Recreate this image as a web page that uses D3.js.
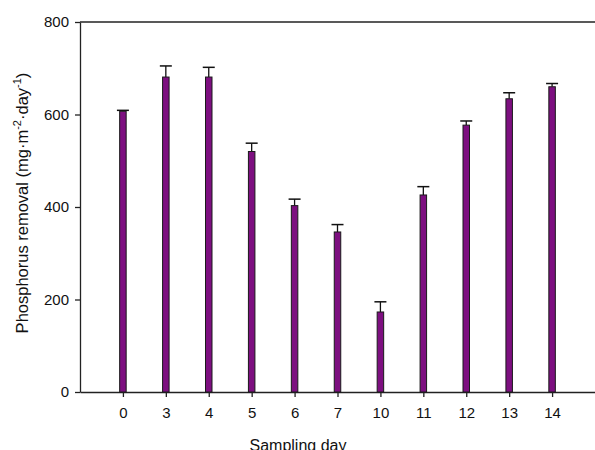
<!DOCTYPE html>
<html>
<head>
<meta charset="utf-8">
<script src="https://cdn.jsdelivr.net/npm/d3@7"></script>
<style>
  body { margin: 0; background: #fff; }
  text { font-family: "Liberation Sans", Arial, sans-serif; fill: #111; }
</style>
</head>
<body>
<svg id="chart" width="595" height="450"></svg>
<script>
// sampling days and measured phosphorus removal (mg m-2 day-1)
var days = ["0", "3", "4", "5", "6", "7", "10", "11", "12", "13", "14"];
var removal = [607, 681, 681, 520, 403, 346, 173, 426, 577, 634, 660];
var errors = [2, 24, 21, 18, 14, 16, 22, 18, 9, 13, 7];
var yTicks = [0, 200, 400, 600, 800];

var plotLeft = 80, plotRight = 595, plotTop = 22, plotBottom = 392;

window.onload = function() {
   var svg = d3.select("#chart");

   var x = d3.scalePoint()
      .domain(days)
      .range([plotLeft, plotRight])
      .padding(1);

   var y = d3.scaleLinear()
      .domain([0, 800])
      .range([plotBottom, plotTop]);

   var barW = 6.5;

   // frame line on top
   svg.append("line")
      .attr("x1", plotLeft).attr("x2", plotRight)
      .attr("y1", plotTop).attr("y2", plotTop)
      .attr("stroke", "#222").attr("stroke-width", 1.3);

   // y axis
   svg.append("g")
      .attr("transform", "translate(" + plotLeft + ",0)")
      .call(d3.axisLeft(y).tickValues(yTicks).tickSize(5).tickPadding(6).tickSizeOuter(0))
      .attr("font-size", 15)
      .attr("font-family", null);

   // x axis
   svg.append("g")
      .attr("transform", "translate(0," + plotBottom + ")")
      .call(d3.axisBottom(x).tickSize(5).tickPadding(10).tickSizeOuter(0))
      .attr("font-size", 15)
      .attr("font-family", null);

   svg.selectAll(".domain, .tick line")
      .attr("stroke", "#222").attr("stroke-width", 1.3);

   // error bars (upper only)
   var eb = svg.append("g");
   days.forEach(function(d, i) {
      var cx = x(d);
      eb.append("line")
         .attr("x1", cx).attr("x2", cx)
         .attr("y1", y(removal[i])).attr("y2", y(removal[i] + errors[i]))
         .attr("stroke", "#111").attr("stroke-width", 1.3);
      eb.append("line")
         .attr("x1", cx - 6).attr("x2", cx + 6)
         .attr("y1", y(removal[i] + errors[i])).attr("y2", y(removal[i] + errors[i]))
         .attr("stroke", "#111").attr("stroke-width", 1.5);
   });

   // bars
   svg.append("g").selectAll("rect")
      .data(days)
      .join("rect")
      .attr("x", function(d) { return x(d) - barW / 2; })
      .attr("y", function(d, i) { return y(removal[i]); })
      .attr("width", barW)
      .attr("height", function(d, i) { return plotBottom - y(removal[i]); })
      .attr("fill", "#7d0f80")
      .attr("stroke", "#1a1a1a")
      .attr("stroke-width", 1);

   // axis titles
   svg.append("text")
      .attr("x", 298).attr("y", 451)
      .attr("text-anchor", "middle")
      .attr("font-size", 16)
      .text("Sampling day");

   var yl = svg.append("text")
      .attr("transform", "translate(28,203) rotate(-90)")
      .attr("text-anchor", "middle")
      .attr("font-size", 16.5);
   yl.append("tspan").text("Phosphorus removal (mg·m");
   yl.append("tspan").attr("dy", -7).attr("font-size", 11).text("-2");
   yl.append("tspan").attr("dy", 7).text("·day");
   yl.append("tspan").attr("dy", -7).attr("font-size", 11).text("-1");
   yl.append("tspan").attr("dy", 7).text(")");
};
</script>
</body>
</html>
